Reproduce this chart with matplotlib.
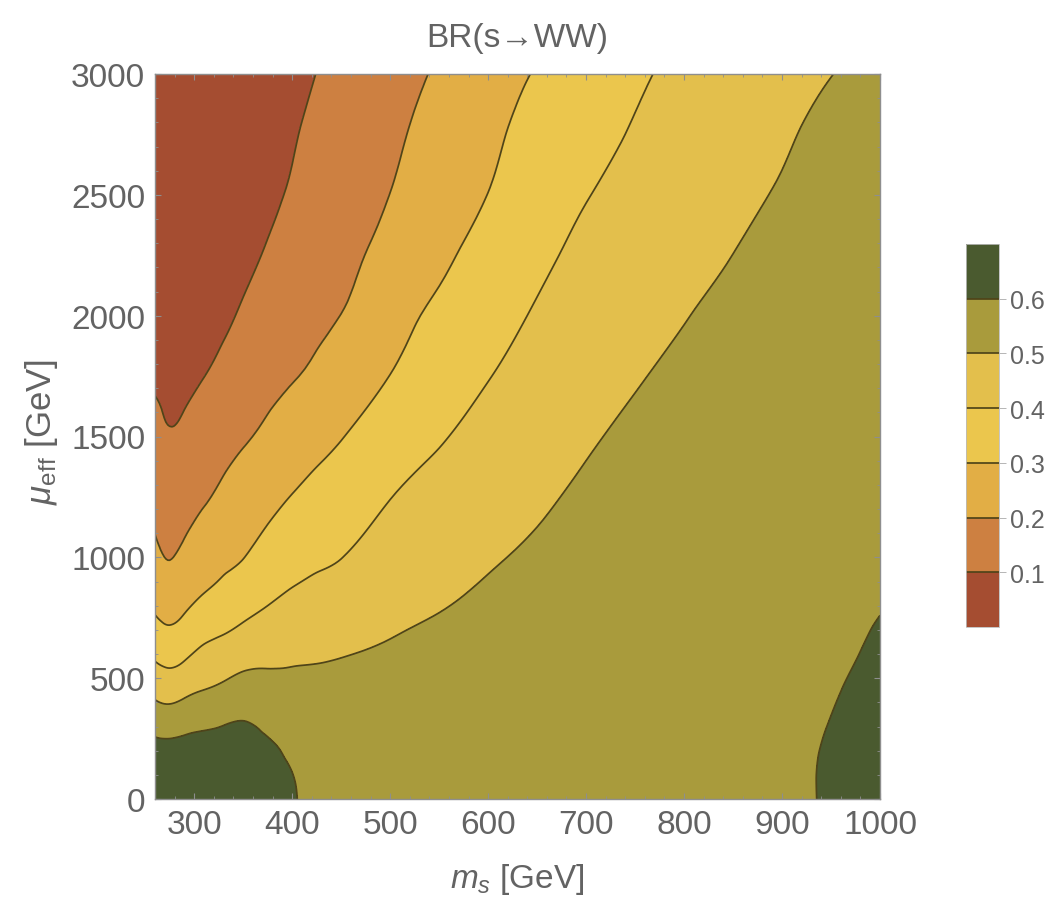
import numpy as np
import matplotlib
matplotlib.use("Agg")
import matplotlib.pyplot as plt
import matplotlib.tri as mtri
from matplotlib.ticker import MultipleLocator

plt.rcParams['font.family'] = ['Liberation Sans', 'DejaVu Sans']
plt.rcParams['mathtext.fontset'] = 'custom'
plt.rcParams['mathtext.rm'] = 'Liberation Sans'
plt.rcParams['mathtext.it'] = 'Liberation Sans:italic'
plt.rcParams['mathtext.bf'] = 'Liberation Sans:bold'

# ---- data ----
ms_values = [260, 275, 290, 310, 330, 350, 375, 400, 425, 450, 500, 550,
             600, 650, 700, 750, 800, 850, 900, 950, 1000]
mu_values = [0, 100, 200, 300, 400, 500, 600, 700, 800, 900, 1000,
             1250, 1500, 1750, 2000, 2250, 2500, 2750, 3000]

# BR(s->WW) along mu_eff for each m_s column
br_260 = [0.645, 0.64, 0.625, 0.574, 0.507, 0.443, 0.382, 0.328, 0.285, 0.254, 0.224, 0.170, 0.127, 0.086, 0.060, 0.048, 0.040, 0.035, 0.030]
br_275 = [0.64, 0.635, 0.622, 0.568, 0.495, 0.426, 0.365, 0.309, 0.269, 0.232, 0.197, 0.151, 0.106, 0.080, 0.062, 0.051, 0.044, 0.038, 0.033]
br_290 = [0.64, 0.636, 0.624, 0.580, 0.512, 0.445, 0.383, 0.331, 0.287, 0.255, 0.223, 0.167, 0.120, 0.082, 0.066, 0.055, 0.048, 0.041, 0.036]
br_310 = [0.64, 0.636, 0.625, 0.592, 0.531, 0.474, 0.421, 0.370, 0.321, 0.284, 0.256, 0.191, 0.145, 0.099, 0.075, 0.062, 0.054, 0.046, 0.040]
br_330 = [0.64, 0.636, 0.625, 0.602, 0.547, 0.493, 0.441, 0.391, 0.349, 0.308, 0.280, 0.219, 0.170, 0.126, 0.086, 0.070, 0.062, 0.052, 0.045]
br_350 = [0.638, 0.634, 0.623, 0.609, 0.561, 0.513, 0.464, 0.414, 0.373, 0.335, 0.298, 0.243, 0.191, 0.151, 0.111, 0.083, 0.072, 0.060, 0.050]
br_375 = [0.632, 0.628, 0.616, 0.585, 0.549, 0.514, 0.477, 0.438, 0.400, 0.369, 0.339, 0.273, 0.217, 0.176, 0.142, 0.107, 0.088, 0.075, 0.060]
br_400 = [0.608, 0.6017, 0.581, 0.558, 0.535, 0.512, 0.485, 0.454, 0.423, 0.393, 0.367, 0.303, 0.246, 0.195, 0.168, 0.140, 0.110, 0.093, 0.078]
br_425 = [0.5775, 0.5668, 0.5562, 0.5456, 0.5349, 0.5157, 0.489, 0.4625, 0.436, 0.409, 0.385, 0.328, 0.272, 0.217, 0.185, 0.164, 0.143, 0.121, 0.101]
br_450 = [0.5749, 0.5651, 0.5554, 0.5456, 0.5359, 0.5203, 0.4959, 0.4715, 0.447, 0.4227, 0.3986, 0.3476, 0.2967, 0.249, 0.2011, 0.177, 0.156, 0.137, 0.122]
br_500 = [0.5643, 0.5573, 0.5504, 0.5434, 0.5364, 0.5287, 0.5113, 0.4939, 0.4765, 0.4591, 0.4417, 0.398, 0.349, 0.301, 0.2667, 0.2333, 0.201, 0.181, 0.165]
br_550 = [0.5632, 0.5574, 0.5515, 0.5456, 0.5398, 0.534, 0.5252, 0.5105, 0.4959, 0.4813, 0.4666, 0.430, 0.393, 0.355, 0.317, 0.284, 0.256, 0.231, 0.209]
br_600 = [0.5645, 0.5595, 0.5545, 0.5495, 0.5445, 0.5395, 0.5345, 0.5288, 0.5163, 0.5038, 0.4912, 0.460, 0.4285, 0.3971, 0.3652, 0.334, 0.3011, 0.279, 0.258]
br_650 = [0.5656, 0.5615, 0.5572, 0.553, 0.5488, 0.5446, 0.5404, 0.5362, 0.5319, 0.5243, 0.5137, 0.4873, 0.461, 0.4346, 0.4082, 0.382, 0.357, 0.334, 0.306]
br_700 = [0.5706, 0.5669, 0.5631, 0.5594, 0.5556, 0.5518, 0.5481, 0.5443, 0.5406, 0.5368, 0.533, 0.5141, 0.4906, 0.467, 0.4436, 0.4201, 0.3966, 0.370, 0.344]
br_750 = [0.5756, 0.5724, 0.5688, 0.5656, 0.562, 0.5586, 0.5552, 0.5517, 0.5483, 0.5448, 0.5414, 0.5328, 0.5155, 0.494, 0.4725, 0.451, 0.4295, 0.408, 0.386]
br_800 = [0.581, 0.578, 0.574, 0.571, 0.568, 0.565, 0.562, 0.5586, 0.555, 0.552, 0.549, 0.541, 0.5334, 0.517, 0.497, 0.477, 0.457, 0.437, 0.417]
br_850 = [0.586, 0.585, 0.583, 0.580, 0.577, 0.574, 0.571, 0.568, 0.564, 0.561, 0.558, 0.550, 0.542, 0.534, 0.520, 0.5005, 0.480, 0.460, 0.440]
br_900 = [0.591, 0.591, 0.590, 0.5874, 0.5843, 0.581, 0.5776, 0.5745, 0.572, 0.570, 0.569, 0.561, 0.553, 0.545, 0.537, 0.5286, 0.5086, 0.489, 0.469]
br_950 = [0.605, 0.605, 0.6039, 0.6014, 0.5983, 0.595, 0.5916, 0.5885, 0.584, 0.581, 0.580, 0.5746, 0.5666, 0.5586, 0.5506, 0.5426, 0.5346, 0.5216, 0.4985]
br_1000 = [0.619, 0.619, 0.6179, 0.6154, 0.6123, 0.609, 0.6056, 0.6025, 0.598, 0.594, 0.590, 0.5856, 0.5776, 0.5696, 0.5616, 0.5536, 0.5456, 0.5376, 0.529]

br_columns = [br_260, br_275, br_290, br_310, br_330, br_350, br_375, br_400,
              br_425, br_450, br_500, br_550, br_600, br_650, br_700, br_750,
              br_800, br_850, br_900, br_950, br_1000]

levels = [0.0, 0.1, 0.2, 0.3, 0.4, 0.5, 0.6, 0.7]
tick_levels = [0.1, 0.2, 0.3, 0.4, 0.5, 0.6]
fill_colors = ['#A54D31', '#CD8041', '#E2AE45', '#EBC64D', '#E3BF4C',
               '#A99B3C', '#4A5A2F']
line_color = '#4F4419'
text_color = '#636363'
frame_color = '#8E8E8E'

# ---- smooth contouring through matplotlib's triangulation refiner ----
Z = np.array(br_columns).T
MS, MU = np.meshgrid(ms_values, mu_values)
span_x = ms_values[-1] - ms_values[0]
span_y = mu_values[-1] - mu_values[0]
xn = ((MS - ms_values[0]) / span_x).ravel()
yn = ((MU - mu_values[0]) / span_y).ravel()
nx, ny = len(ms_values), len(mu_values)
triangles = []
for j in range(ny - 1):
    for i in range(nx - 1):
        a = j * nx + i
        b = a + 1
        c = a + nx
        d = c + 1
        triangles.append([a, b, d])
        triangles.append([a, d, c])
tri_n = mtri.Triangulation(xn, yn, triangles)
refiner = mtri.UniformTriRefiner(tri_n)
interp = mtri.CubicTriInterpolator(tri_n, Z.ravel(), kind='min_E')
tri_ref, z_ref = refiner.refine_field(Z.ravel(), triinterpolator=interp,
                                      subdiv=3)
tri_plot = mtri.Triangulation(ms_values[0] + tri_ref.x * span_x,
                              mu_values[0] + tri_ref.y * span_y,
                              tri_ref.triangles)

# ---- figure ----
W, H = 1063, 903
fig = plt.figure(figsize=(W / 100, H / 100), dpi=100)
ax = fig.add_axes([155 / W, (H - 800) / H, 725 / W, 725 / H])

cf = ax.tricontourf(tri_plot, z_ref, levels=levels, colors=fill_colors)
cl = ax.tricontour(tri_plot, z_ref, levels=tick_levels, colors=line_color,
                   linewidths=1.25)

ax.set_xlim(260, 1000)
ax.set_ylim(0, 3000)
ax.xaxis.set_major_locator(MultipleLocator(100))
ax.xaxis.set_minor_locator(MultipleLocator(20))
ax.yaxis.set_major_locator(MultipleLocator(500))
ax.yaxis.set_minor_locator(MultipleLocator(100))
ax.tick_params(which='both', direction='in', top=True, right=True,
               color=frame_color, labelcolor=text_color, labelsize=24)
ax.tick_params(which='major', length=4, width=0.8, pad=7)
ax.tick_params(which='minor', length=2.5, width=0.6)
for s in ax.spines.values():
    s.set_color(frame_color)
    s.set_linewidth(1.0)

fig.text(517 / W, 1 - 38 / H, 'BR(s→WW)', ha='center', va='center',
         fontsize=24, color=text_color)
fig.text(517 / W, 1 - 880 / H, r'$m_s$ [GeV]', ha='center', va='center',
         fontsize=24, color=text_color)
fig.text(41 / W, 1 - 432 / H, r'$\mu_{\mathrm{eff}}$ [GeV]', ha='center',
         va='center', rotation=90, fontsize=25, color=text_color)

# ---- colour bar ----
cax = fig.add_axes([966 / W, (H - 628) / H, 33 / W, 383 / H])
cb = fig.colorbar(cf, cax=cax, ticks=tick_levels)
cb.add_lines(cl)
cb.outline.set_edgecolor('#BBBBBB')
cb.outline.set_linewidth(0.6)
cax.tick_params(direction='out', length=5, width=0.6, color='#AAAAAA',
                labelcolor=text_color, labelsize=18, pad=3)
cax.set_yticklabels([f'{v:.1f}' for v in tick_levels])

fig.savefig('out.png', dpi=100)
